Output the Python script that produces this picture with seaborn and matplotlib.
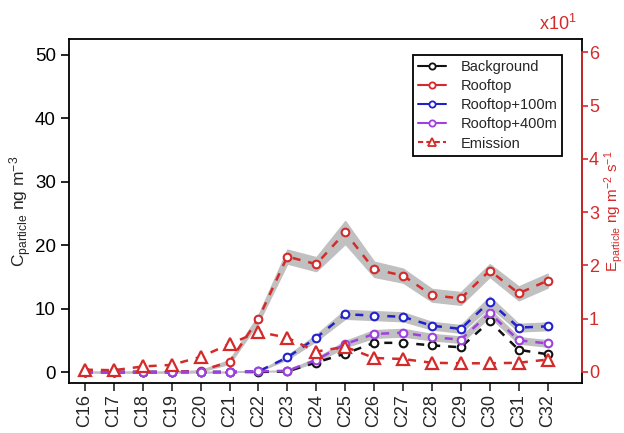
import numpy as np
import pandas as pd
import matplotlib
matplotlib.use("Agg")
import matplotlib.pyplot as plt
from matplotlib.lines import Line2D
import seaborn as sns

# ---- data ----
categories = ["C16", "C17", "C18", "C19", "C20", "C21", "C22", "C23", "C24",
              "C25", "C26", "C27", "C28", "C29", "C30", "C31", "C32"]
background = [0.0, 0.0, 0.0, 0.0, 0.0, 0.0, 0.0, 0.1, 1.5, 2.9, 4.6, 4.6, 4.2, 3.9, 8.0, 3.5, 2.8]
rooftop = [0.0, 0.0, 0.0, 0.0, 0.2, 1.6, 8.4, 18.2, 17.0, 22.0, 16.2, 15.2, 12.1, 11.6, 16.0, 12.4, 14.4]
rooftop_sd = [0.0, 0.0, 0.0, 0.0, 0.1, 0.3, 0.6, 1.1, 1.1, 1.8, 1.2, 1.1, 1.0, 1.0, 1.0, 1.1, 1.1]
rooftop_100m = [0.0, 0.0, 0.0, 0.0, 0.0, 0.0, 0.1, 2.3, 5.4, 9.1, 8.9, 8.7, 7.3, 6.8, 11.1, 7.0, 7.2]
rooftop_100m_sd = [0.0, 0.0, 0.0, 0.0, 0.0, 0.0, 0.0, 0.3, 0.5, 0.7, 0.7, 0.7, 0.6, 0.6, 0.8, 0.6, 0.6]
rooftop_400m = [0.0, 0.0, 0.0, 0.0, 0.0, 0.0, 0.1, 0.2, 1.9, 4.4, 6.0, 6.2, 5.5, 5.1, 9.3, 5.0, 4.5]
rooftop_400m_sd = [0.0, 0.0, 0.0, 0.0, 0.0, 0.0, 0.0, 0.1, 0.3, 0.5, 0.6, 0.6, 0.5, 0.5, 0.6, 0.5, 0.5]
emission = [0.4, 0.3, 1.0, 1.3, 2.8, 5.2, 7.5, 6.4, 3.8, 4.7, 2.6, 2.4, 1.7, 1.6, 1.6, 1.7, 2.3]

sns.set_style("ticks")
plt.rcParams["font.family"] = ["Liberation Sans", "DejaVu Sans"]
plt.rcParams["mathtext.fontset"] = "custom"
plt.rcParams["mathtext.rm"] = "Liberation Sans"
plt.rcParams["mathtext.it"] = "Liberation Sans:italic"
plt.rcParams["mathtext.sf"] = "Liberation Sans"

RED = "#d42a2a"
BLUE = "#2222cc"
PURPLE = "#a040e0"
BLACK = "#111111"
BAND = "#c0c0c0"

pos = np.arange(len(categories))
df = pd.DataFrame({
    "pos": pos,
    "Background": background,
    "Rooftop": rooftop,
    "Rooftop+100m": rooftop_100m,
    "Rooftop+400m": rooftop_400m,
    "Emission": emission,
})

fig = plt.figure(figsize=(6.24, 4.33), dpi=100)
ax = fig.add_axes([0.1106, 0.1155, 0.8221, 0.7944])

dash = (0, (3.2, 3.2))
line_kw = dict(linewidth=1.8, linestyle=dash, marker="o", markersize=5.5,
               markerfacecolor="white", markeredgewidth=1.5)

# uncertainty bands behind the concentration lines
for mean, sd in [(rooftop, rooftop_sd), (rooftop_100m, rooftop_100m_sd),
                 (rooftop_400m, rooftop_400m_sd)]:
    m = np.asarray(mean)
    s = np.asarray(sd)
    ax.fill_between(pos, m - s, m + s, color=BAND, edgecolor=BAND,
                    linewidth=1.0, zorder=1)

for col, color in [("Background", BLACK), ("Rooftop", RED),
                   ("Rooftop+100m", BLUE), ("Rooftop+400m", PURPLE)]:
    sns.lineplot(data=df, x="pos", y=col, ax=ax, color=color,
                 markeredgecolor=color, zorder=3, **line_kw)

ax.set_xlim(-0.55, 17.19)
ax.set_ylim(-1.73, 52.5)
ax.set_yticks([0, 10, 20, 30, 40, 50])
ax.set_xticks(pos)
ax.set_xticklabels(categories, rotation=90, fontsize=13)
ax.tick_params(axis="y", labelsize=13.5, length=6, width=1.2, colors="black")
ax.tick_params(axis="x", length=6, width=1.2, pad=2)
ax.set_xlabel("")
ax.set_ylabel(r"C$_{\mathrm{particle}}$ ng m$^{-3}$", fontsize=12.5)
ax.yaxis.set_label_coords(-0.068, 0.5)
for sp in ax.spines.values():
    sp.set_color("black")
    sp.set_linewidth(1.3)

# emission rate on the secondary axis
ax2 = ax.twinx()
sns.lineplot(data=df, x="pos", y="Emission", ax=ax2, color=RED,
             linewidth=1.8, linestyle=dash, marker="^", markersize=8,
             markerfacecolor="white", markeredgecolor=RED,
             markeredgewidth=1.6, zorder=4)
ax2.set_ylim(-2.1, 62.5)
ax2.set_yticks([0, 10, 20, 30, 40, 50, 60])
ax2.set_yticklabels(["0", "1", "2", "3", "4", "5", "6"])
ax2.tick_params(axis="y", labelsize=13, length=4.5, width=1.2,
                colors=RED, pad=0.5)
for name in ["left", "top", "bottom"]:
    ax2.spines[name].set_visible(False)
ax2.spines["right"].set_color(RED)
ax2.spines["right"].set_linewidth(1.3)
ax2.spines["right"].set_bounds(0, 60)
ax2.set_xlabel("")
ax2.set_ylabel(r"E$_{\mathrm{particle}}$ ng m$^{-2}$ s$^{-1}$", fontsize=11,
               color=RED)
ax2.yaxis.set_label_coords(1.040, 0.5)
ax2.text(0.99, 1.015, r"x10$^{1}$", transform=ax2.transAxes, ha="right",
         va="bottom", color=RED, fontsize=13)
ax2.set_xlim(-0.55, 17.19)

handles = [
    Line2D([], [], color=BLACK, lw=1.5, marker="o", ms=4.5, mfc="white", mec=BLACK, mew=1.3),
    Line2D([], [], color=RED, lw=1.5, marker="o", ms=4.5, mfc="white", mec=RED, mew=1.3),
    Line2D([], [], color=BLUE, lw=1.5, marker="o", ms=4.5, mfc="white", mec=BLUE, mew=1.3),
    Line2D([], [], color=PURPLE, lw=1.5, marker="o", ms=4.5, mfc="white", mec=PURPLE, mew=1.3),
    Line2D([], [], color=RED, lw=1.5, ls=(0, (2.5, 1.5)), marker="^", ms=6,
           mfc="white", mec=RED, mew=1.3),
]
labels = ["Background", "Rooftop", "Rooftop+100m", "Rooftop+400m", "Emission"]
leg = ax2.legend(handles, labels, loc="upper left", bbox_to_anchor=(0.6706, 0.9535),
                 borderaxespad=0, fontsize=10.5, frameon=True, fancybox=False,
                 handlelength=1.9, handletextpad=1.0, labelspacing=0.35,
                 borderpad=0.35)
leg.get_frame().set_edgecolor("black")
leg.get_frame().set_linewidth(1.3)
leg.get_frame().set_alpha(1)

fig.savefig("out.png", dpi=100)
